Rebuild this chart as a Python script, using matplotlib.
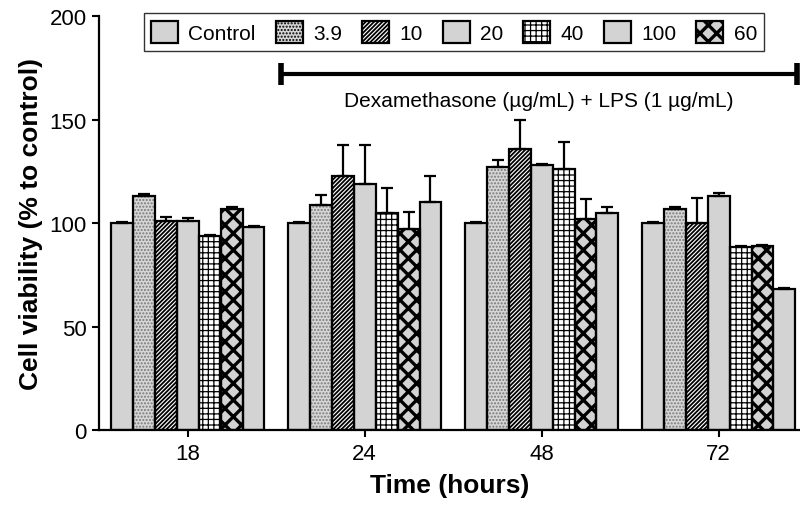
import numpy as np
import matplotlib
matplotlib.use("Agg")
import matplotlib.pyplot as plt
from matplotlib.patches import Patch

plt.rcParams['font.family'] = ['Liberation Sans', 'DejaVu Sans']

# data
times = ['18', '24', '48', '72']
doses = ['Control', '3.9', '10', '20', '40', '60', '100']
means = {
    'Control': [100, 100, 100, 100],
    '3.9': [113, 109, 127, 107],
    '10': [101, 123, 136, 100],
    '20': [101, 119, 128, 113],
    '40': [94, 105, 126, 88.5],
    '60': [107, 97, 102, 89],
    '100': [98, 110, 105, 68],
}
errs = {
    'Control': [0.5, 0.5, 0.5, 0.5],
    '3.9': [1, 4.5, 3.7, 0.6],
    '10': [2, 15, 14, 12],
    '20': [1.5, 19, 0.5, 1.4],
    '40': [0.5, 12, 13, 0.6],
    '60': [1, 8.5, 9.5, 0.6],
    '100': [0.8, 13, 2.7, 0.8],
}
legend_order = ['Control', '3.9', '10', '20', '40', '100', '60']

# fill, hatch, hatch colour, hatch linewidth
styles = {
    'Control': ('#d3d3d3', '', 'black', 1.0),
    '3.9': ('#d6d6d6', '.....', '#7a7a7a', 1.0),
    '10': ('white', '////////', 'black', 1.3),
    '20': ('#d3d3d3', '', 'black', 1.0),
    '40': ('white', '+++', 'black', 0.9),
    '60': ('#d3d3d3', 'xx', 'black', 2.4),
    '100': ('#d3d3d3', '', 'black', 1.0),
}


def set_hlw(patch, lw):
    if hasattr(patch, 'set_hatch_linewidth'):
        patch.set_hatch_linewidth(lw)


fig = plt.figure(figsize=(8, 5.06), dpi=100)
ax = fig.add_axes([0.124, 0.148, 0.876, 0.818])

x = np.arange(len(times))
width = 0.124
n = len(doses)

for i, d in enumerate(doses):
    pos = x + (i - (n - 1) / 2) * width
    face, hatch, hcol, hlw = styles[d]
    bars = ax.bar(pos, means[d], width, color=face, edgecolor=hcol, linewidth=0,
                  hatch=hatch, zorder=2)
    for b in bars:
        set_hlw(b, hlw)
    ax.bar(pos, means[d], width, facecolor='none', edgecolor='black', linewidth=1.6, zorder=3)
    ax.errorbar(pos, means[d], yerr=[np.zeros(len(times)), errs[d]], fmt='none',
                ecolor='black', elinewidth=1.6, capsize=4, capthick=1.6, zorder=4)

# treatment bracket
bracket_x = [0.53, 3.443]
bracket_y = 172
ax.plot(bracket_x, [bracket_y, bracket_y], color='black', lw=3, solid_capstyle='butt',
        marker='|', markersize=16, markeredgewidth=4, clip_on=False, zorder=5)
ax.text(1.986, 159.5, 'Dexamethasone (µg/mL) + LPS (1 µg/mL)', ha='center', va='center',
        fontsize=15)

ax.set_xlim(-0.5, 3.46)
ax.set_ylim(0, 200)
ax.set_xticks(x)
ax.set_xticklabels(times)
ax.set_yticks([0, 50, 100, 150, 200])
ax.tick_params(axis='both', direction='out', length=5, width=1.5, labelsize=16, pad=4)
for s in ['top', 'right']:
    ax.spines[s].set_visible(False)
for s in ['left', 'bottom']:
    ax.spines[s].set_linewidth(1.6)

ax.set_xlabel('Time (hours)', fontsize=19, fontweight='bold', labelpad=7)
ax.set_ylabel('Cell viability (% to control)', fontsize=19, fontweight='bold', labelpad=5)

handles = []
for d in legend_order:
    face, hatch, hcol, hlw = styles[d]
    handles.append(Patch(facecolor=face, edgecolor='black', hatch=hatch, linewidth=1.6))
leg = fig.legend(handles, legend_order, loc='upper center', bbox_to_anchor=(454 / 800, 1 - 4 / 506),
                 ncol=7, frameon=True, fancybox=False, fontsize=15, handlelength=1.3,
                 handleheight=1.3, handletextpad=0.5, columnspacing=0.95, borderpad=0.35)
leg.get_frame().set_edgecolor('black')
leg.get_frame().set_linewidth(1.0)
for h, d in zip(leg.legend_handles, legend_order):
    set_hlw(h, styles[d][3])

fig.savefig('out.png', dpi=100)
